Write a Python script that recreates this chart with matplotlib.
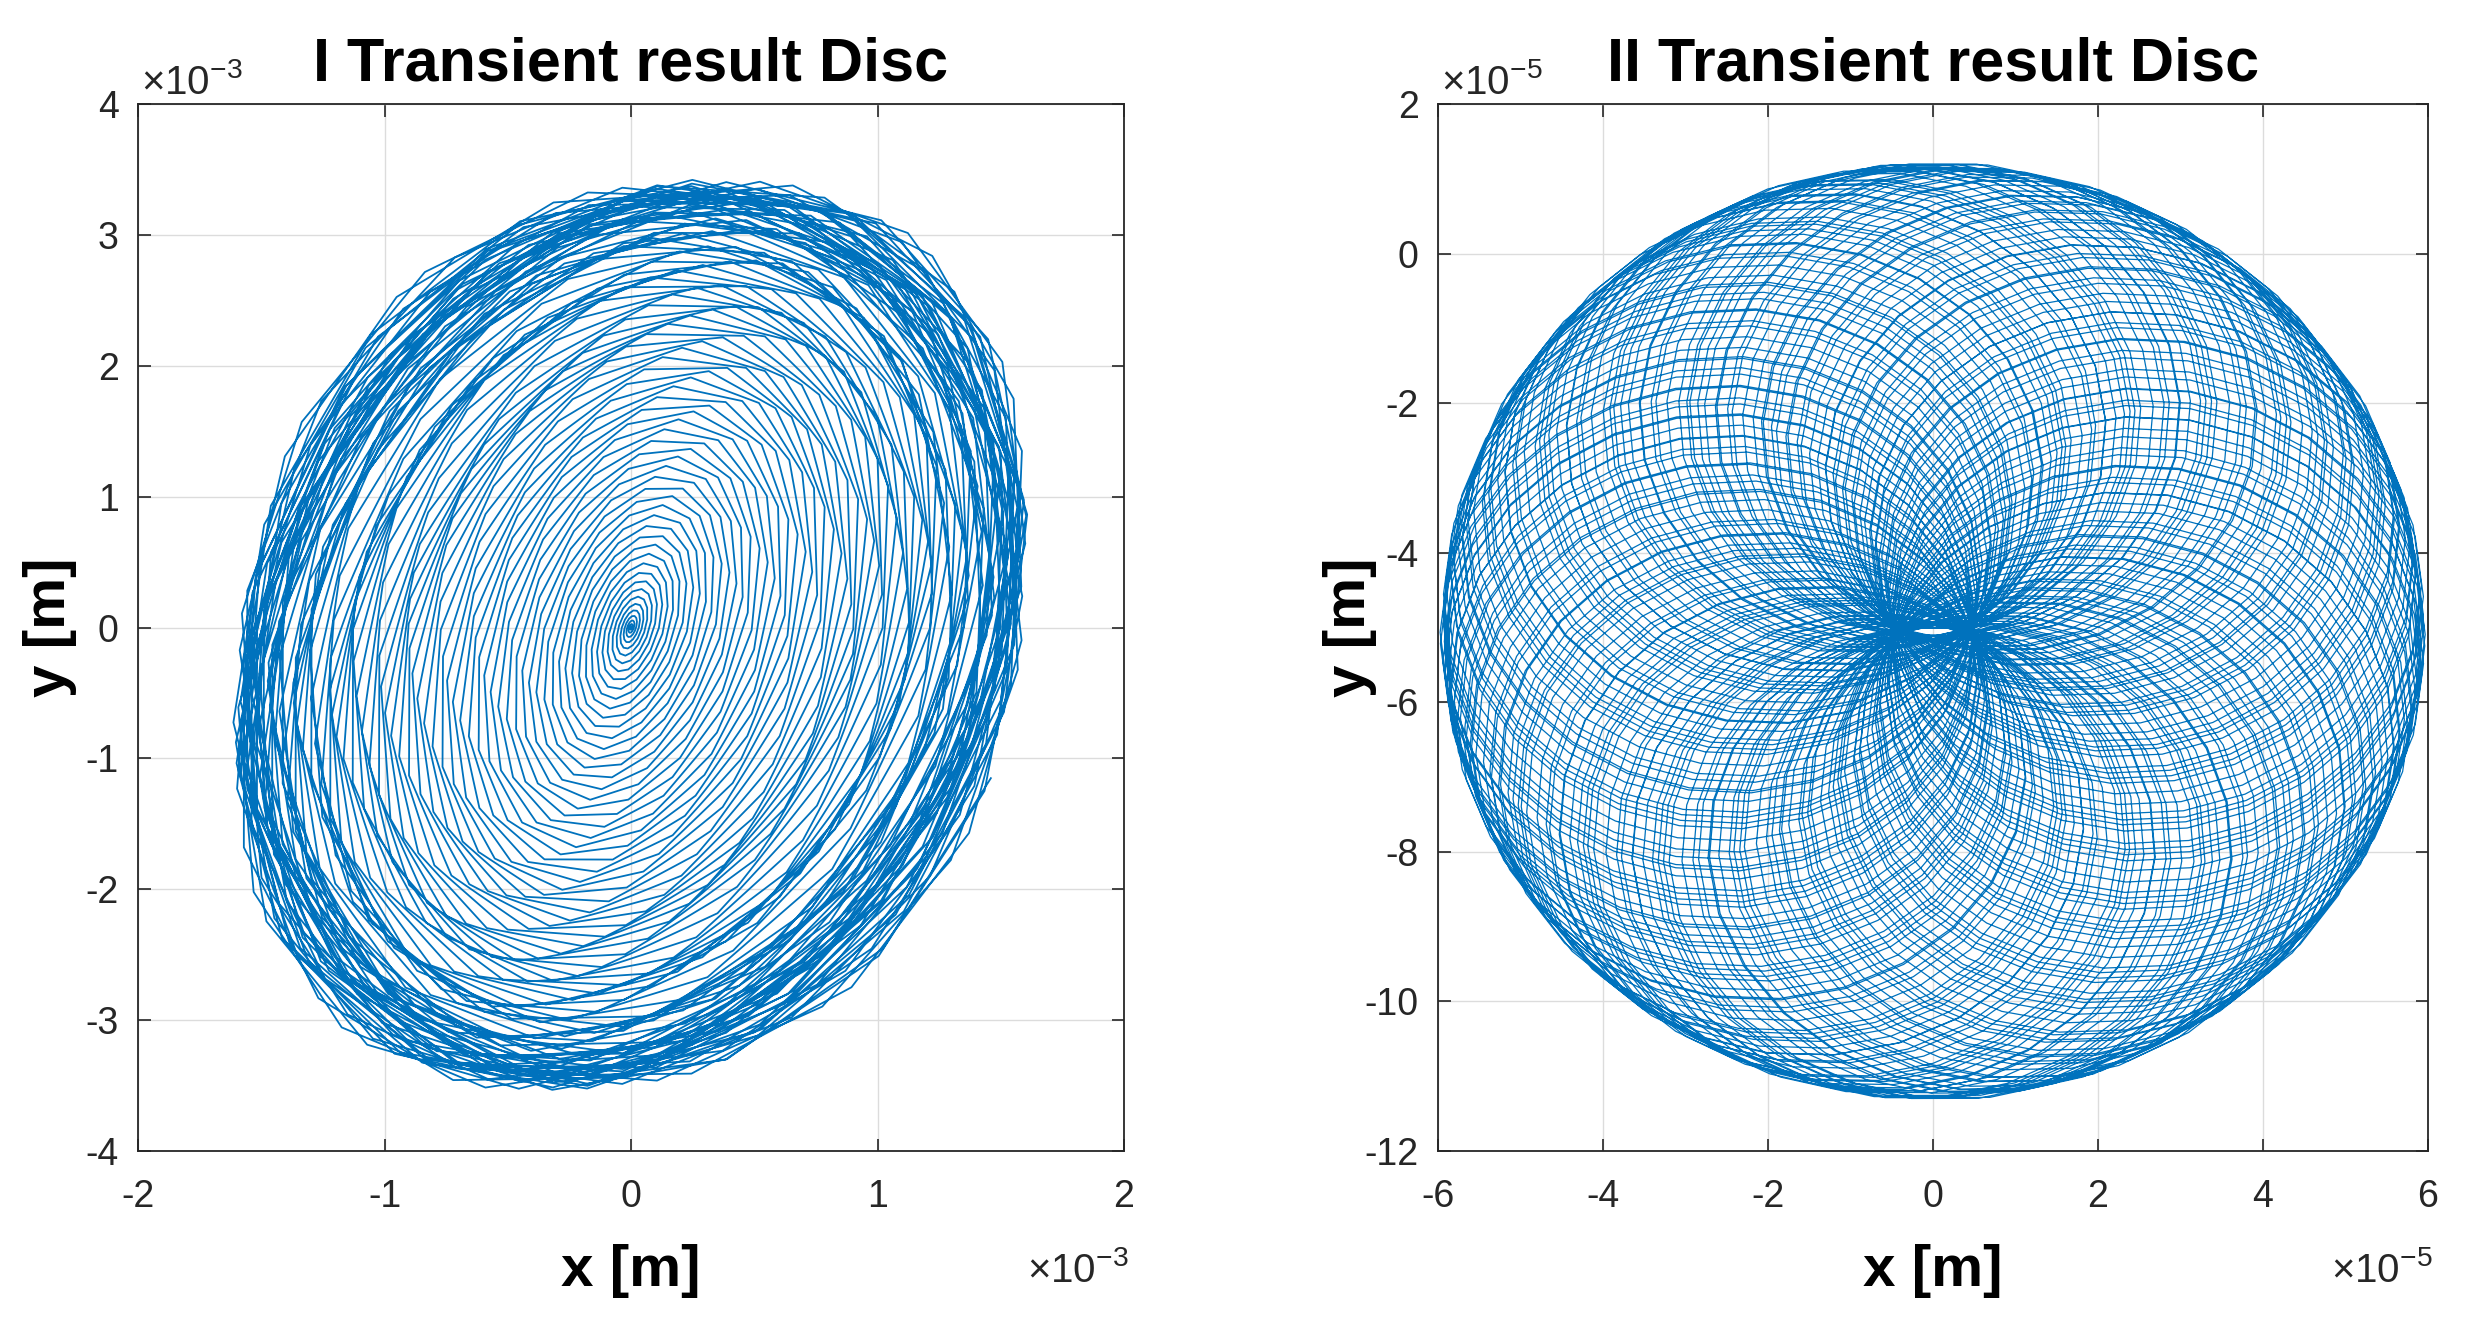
import numpy as np
import matplotlib
matplotlib.use("Agg")
import matplotlib.pyplot as plt
from matplotlib.ticker import FuncFormatter

plt.rcParams['font.family'] = ['Liberation Sans', 'DejaVu Sans']
plt.rcParams['mathtext.fontset'] = 'custom'
plt.rcParams['mathtext.rm'] = 'Liberation Sans'

#data - disc I (transient orbit growing to steady whirl)
d1_title = 'I Transient result Disc'
d1_xlim = [-2e-3, 2e-3]
d1_ylim = [-4e-3, 4e-3]
d1_xticks = [-2, -1, 0, 1, 2]
d1_yticks = [-4, -3, -2, -1, 0, 1, 2, 3, 4]
d1_scale = 1e-3
d1_amp = [1.66e-3, 3.55e-3]     # final half amplitude x, y
d1_xgrow = 0.6                  # x share at the start of the run
d1_lag = [62.0, 80.0]           # deg, y behind x: centre, outer
d1_wobble = [7.0, 11.0]         # deg, period in turns of late phase wobble
d1_shift = [0.0, -0.06e-3]
d1_turns = 100
d1_steps = 14.2                 # samples per turn
d1_rise = 17.0                  # turns

#data - disc II (two whirl components)
d2_title = 'II Transient result Disc'
d2_xlim = [-6e-5, 6e-5]
d2_ylim = [-12e-5, 2e-5]
d2_xticks = [-6, -4, -2, 0, 2, 4, 6]
d2_yticks = [-12, -10, -8, -6, -4, -2, 0, 2]
d2_scale = 1e-5
d2_center = [0.0, -5.05e-5]
d2_fast = [3.22e-5, 3.17e-5]
d2_slow = [2.73e-5, 3.08e-5]
d2_beat = [0.008, 23.0]         # fast radius ripple, period in turns
d2_turns = 185
d2_slow_turns = 10.07
d2_steps = 26

LINE = '#0072BD'
GRAY = '#262626'

#orbit I
k = np.arange(int(d1_turns * d1_steps))
th = 2 * np.pi * k / d1_steps
u = th / (2 * np.pi) / d1_rise
g = 1 - np.exp(-u) * (1 + u)
lag = d1_lag[0] + (d1_lag[1] - d1_lag[0]) * g
lag = lag + d1_wobble[0] * g ** 4 * np.sin(th / d1_wobble[1])
gx = g * (d1_xgrow + (1 - d1_xgrow) * g)
x1 = d1_shift[0] + d1_amp[0] * gx * np.cos(th)
y1 = d1_shift[1] * g + d1_amp[1] * g * np.cos(th - np.radians(lag))

#orbit II
t = np.arange(d2_turns * d2_steps) / d2_steps
a = 2 * np.pi * t
b = 2 * np.pi * t * d2_slow_turns / d2_turns + np.pi
r = 1 + d2_beat[0] * np.sin(2 * np.pi * t / d2_beat[1])
x2 = d2_center[0] + d2_fast[0] * r * np.cos(a) + d2_slow[0] * np.cos(b)
y2 = d2_center[1] + d2_fast[1] * r * np.sin(a) + d2_slow[1] * np.sin(b)

W, H = 2472, 1328
fig = plt.figure(figsize=(W / 100, H / 100), dpi=100)
ax1 = fig.add_axes([138 / W, 177 / H, 986 / W, 1047 / H])
ax2 = fig.add_axes([1438 / W, 177 / H, 990 / W, 1047 / H])


def style(ax, xs, ys, xlim, ylim, sc, title):
    ax.set_xlim(xlim)
    ax.set_ylim(ylim)
    ax.set_xticks([v * sc for v in xs])
    ax.set_yticks([v * sc for v in ys])
    fmt = FuncFormatter(lambda v, p: '%g' % round(v / sc, 6))
    ax.xaxis.set_major_formatter(fmt)
    ax.yaxis.set_major_formatter(fmt)
    ax.grid(True, color='#dcdcdc', lw=1.0)
    ax.set_axisbelow(True)
    ax.tick_params(direction='in', length=9, width=1.2, color=GRAY,
                   labelsize=27, labelcolor=GRAY, top=True, right=True)
    ax.tick_params(axis='x', pad=20)
    ax.tick_params(axis='y', pad=14)
    for s in ax.spines.values():
        s.set_color(GRAY)
        s.set_linewidth(1.3)
    ax.set_title(title, fontsize=44, fontweight='bold', pad=17)
    ax.set_xlabel('x [m]', fontsize=42, fontweight='bold', va='center')
    ax.set_ylabel('y [m]', fontsize=42, fontweight='bold', va='center')
    ax.xaxis.set_label_coords(0.5, -0.115)
    ax.yaxis.set_label_coords(-0.089, 0.5)
    e = int(round(np.log10(sc)))
    ax.text(0.003, 1.0096, r'$\times\mathregular{10^{%d}}$' % e, transform=ax.transAxes,
            fontsize=29, color=GRAY, ha='left', va='baseline')
    ax.text(1.005, -0.125, r'$\times\mathregular{10^{%d}}$' % e, transform=ax.transAxes,
            fontsize=29, color=GRAY, ha='right', va='baseline')


ax1.plot(x1, y1, color=LINE, lw=1.3)
style(ax1, d1_xticks, d1_yticks, d1_xlim, d1_ylim, d1_scale, d1_title)

ax2.plot(x2, y2, color=LINE, lw=0.9)
style(ax2, d2_xticks, d2_yticks, d2_xlim, d2_ylim, d2_scale, d2_title)

fig.savefig('out.png', dpi=100)
